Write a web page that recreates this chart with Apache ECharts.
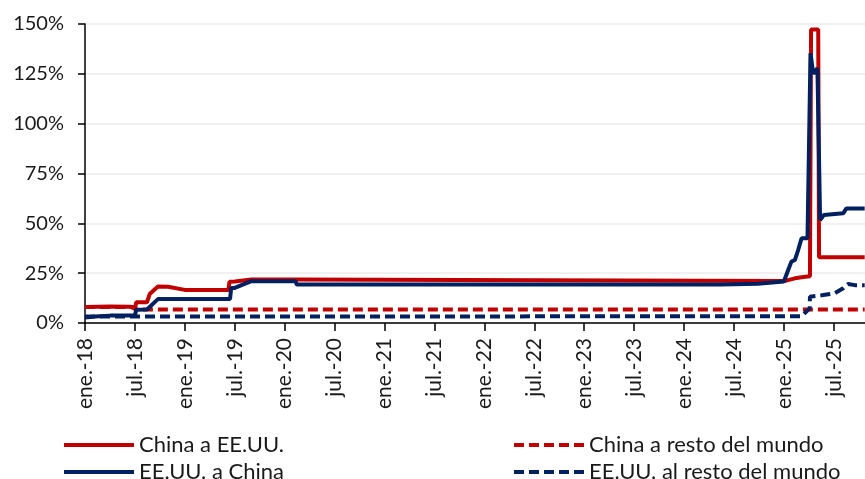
<!DOCTYPE html>
<html>
<head>
<meta charset="utf-8">
<script src="https://cdn.jsdelivr.net/npm/echarts@6/dist/echarts.min.js"></script>
<style>
  html, body { margin: 0; padding: 0; background: #fff; }
  #chart { width: 865px; height: 479px; }
</style>
</head>
<body>
<div id="chart"></div>
<script>
// aranceles medios (%), fecha de cambio -> valor
const chinaAEEUU = [
  ['2018-01-01', 8.0], ['2018-04-01', 8.3], ['2018-06-15', 8.1], ['2018-07-01', 7.2],
  ['2018-07-06', 10.4], ['2018-08-15', 10.4], ['2018-08-25', 14.5], ['2018-09-24', 18.3],
  ['2018-11-01', 18.2], ['2019-01-01', 16.6], ['2019-06-08', 16.6], ['2019-06-12', 20.7],
  ['2019-07-01', 20.8], ['2019-09-01', 21.8], ['2020-02-10', 21.8], ['2020-02-14', 21.1],
  ['2025-01-06', 21.1], ['2025-02-10', 22.4], ['2025-03-18', 23.2], ['2025-04-05', 23.4],
  ['2025-04-09', 147.2], ['2025-05-05', 147.2], ['2025-05-08', 33.0], ['2025-10-23', 33.0]
]
const eeuuAChina = [
  ['2018-01-01', 2.8], ['2018-02-07', 3.3], ['2018-04-01', 3.7], ['2018-07-01', 3.8],
  ['2018-07-06', 6.7], ['2018-08-15', 6.8], ['2018-09-24', 12.0], ['2019-06-14', 12.0],
  ['2019-06-18', 17.5], ['2019-07-01', 17.6], ['2019-09-01', 21.0], ['2020-02-10', 21.0],
  ['2020-02-14', 19.3], ['2024-05-15', 19.3], ['2024-09-27', 19.7], ['2025-01-01', 20.8],
  ['2025-01-17', 26.6], ['2025-01-29', 30.8], ['2025-02-10', 31.6], ['2025-02-21', 36.6],
  ['2025-03-05', 42.5], ['2025-03-27', 42.5], ['2025-04-07', 135.3], ['2025-04-17', 125.0],
  ['2025-05-02', 127.8], ['2025-05-12', 51.7], ['2025-05-26', 54.2], ['2025-08-05', 55.0],
  ['2025-08-17', 57.5], ['2025-10-23', 57.5]
]
const chinaResto = [
  ['2018-01-01', 8.0], ['2018-06-30', 8.0], ['2018-07-01', 6.8], ['2025-10-23', 6.8]
]
const eeuuResto = [
  ['2018-01-01', 3.2], ['2025-03-05', 3.4], ['2025-04-04', 7.4], ['2025-04-05', 13.2],
  ['2025-05-23', 14.0], ['2025-07-04', 14.9], ['2025-08-05', 17.4], ['2025-08-23', 19.6],
  ['2025-09-17', 19.0], ['2025-10-23', 19.0]
]
const mesesEtiqueta = ['ene.', 'jul.']
const yTicks = [0, 25, 50, 75, 100, 125, 150]

// meses desde ene-2018
function mesDesde (s) {
  const [y, m, d] = s.split('-').map(Number)
  const dias = new Date(y, m, 0).getDate()
  return (y - 2018) * 12 + (m - 1) + (d - 1) / dias
}
function toPoints (arr) {
  return arr.map(p => [mesDesde(p[0]), p[1]])
}

const font = 'Lato'
const red = '#C00000'
const blue = '#002060'

// una leyenda por serie para colocarlas en dos columnas
function leyenda (name, left, top) {
  return {
    data: [name],
    left: left,
    top: top,
    itemWidth: 70,
    itemHeight: 14,
    itemGap: 6,
    itemStyle: { opacity: 0 },
    lineStyle: { width: 4 },
    textStyle: { fontFamily: font, fontSize: 22, lineHeight: 26, color: '#1a1a1a' }
  }
}

const myChart = echarts.init(document.getElementById('chart'))
const option = {
  animation: false,
  textStyle: { fontFamily: font },
  grid: { left: 85, right: 0, top: 24, bottom: 156 },
  legend: [
    leyenda('China a EE.UU.', 57, 427),
    leyenda('EE.UU. a China', 57, 454),
    leyenda('China a resto del mundo', 507, 427),
    leyenda('EE.UU. al resto del mundo', 507, 454)
  ],
  xAxis: {
    type: 'value',
    min: 0,
    max: 93.75,
    interval: 6,
    splitLine: { show: false },
    axisLine: { onZero: false, lineStyle: { color: '#000', width: 1.5 } },
    axisTick: { show: true, length: 8, lineStyle: { color: '#000', width: 1.5 } },
    axisLabel: {
      rotate: 90,
      fontSize: 21,
      color: '#1a1a1a',
      margin: 15,
      showMaxLabel: false,
      formatter: function (v) {
        const yy = 18 + Math.floor(v / 12)
        return mesesEtiqueta[(v % 12) / 6] + '-' + yy
      }
    }
  },
  yAxis: {
    type: 'value',
    min: yTicks[0],
    max: yTicks[yTicks.length - 1],
    interval: 25,
    axisLine: { show: true, lineStyle: { color: '#000', width: 1.5 } },
    axisTick: { show: true, length: 7, lineStyle: { color: '#000', width: 1.5 } },
    splitLine: { show: true, lineStyle: { color: '#ececec', width: 1.5 } },
    axisLabel: { fontSize: 20, color: '#1a1a1a', margin: 21, formatter: '{value}%' }
  },
  series: [
    {
      name: 'China a resto del mundo',
      type: 'line',
      data: toPoints(chinaResto),
      symbol: 'none',
      color: red,
      lineStyle: { width: 4, type: [10, 5] },
      z: 1
    },
    {
      name: 'EE.UU. al resto del mundo',
      type: 'line',
      data: toPoints(eeuuResto),
      symbol: 'none',
      color: blue,
      lineStyle: { width: 4, type: [10, 5] },
      z: 2
    },
    {
      name: 'China a EE.UU.',
      type: 'line',
      data: toPoints(chinaAEEUU),
      symbol: 'none',
      color: red,
      lineStyle: { width: 4 },
      z: 3
    },
    {
      name: 'EE.UU. a China',
      type: 'line',
      data: toPoints(eeuuAChina),
      symbol: 'none',
      color: blue,
      lineStyle: { width: 4 },
      z: 4
    }
  ]
}
myChart.setOption(option)
window.addEventListener('resize', function () {
  myChart.resize()
})
</script>
</body>
</html>
